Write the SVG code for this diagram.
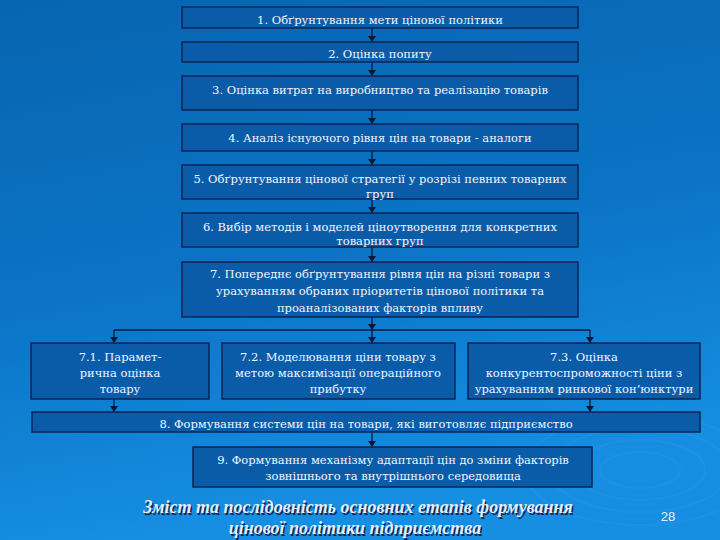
<svg xmlns="http://www.w3.org/2000/svg" width="720" height="540" viewBox="0 0 720 540">
<defs>
<linearGradient id="bg" x1="0" y1="0" x2="0.25" y2="1">
<stop offset="0" stop-color="#0765b0"/>
<stop offset="0.55" stop-color="#0b74c6"/>
<stop offset="1" stop-color="#168fe2"/>
</linearGradient>
<marker id="ah" markerWidth="6" markerHeight="8" refX="6" refY="4" orient="auto" markerUnits="userSpaceOnUse">
<path d="M0,0 L6,4 L0,8 z" fill="#0a1838"/>
</marker>
<style>
.box{fill:#0b5ca8;stroke:#0b2456;stroke-width:1.5}
.t{font-family:"DejaVu Serif","Liberation Serif",serif;font-size:11.5px;fill:#f2f6ff;text-anchor:middle}
.c{fill:none;stroke:#0a1838;stroke-width:1.3}
.ttl{font-family:"Liberation Serif","DejaVu Serif",serif;font-size:18px;font-weight:bold;font-style:italic;text-anchor:middle}
.sw{fill:none;stroke:#5fb4f0;stroke-opacity:0.1;stroke-width:2}
</style>
</defs>
<rect width="720" height="540" fill="url(#bg)"/>
<g id="swirls">
<ellipse class="sw" cx="640" cy="470" rx="40" ry="18"/>
<ellipse class="sw" cx="640" cy="470" rx="65" ry="30"/>
<ellipse class="sw" cx="640" cy="470" rx="90" ry="42"/>
<ellipse class="sw" cx="640" cy="470" rx="115" ry="55"/>
</g>
<g id="connectors">
<line class="c" x1="372" y1="28" x2="372" y2="42" marker-end="url(#ah)"/>
<line class="c" x1="372" y1="62" x2="372" y2="76" marker-end="url(#ah)"/>
<line class="c" x1="372" y1="110" x2="372" y2="124" marker-end="url(#ah)"/>
<line class="c" x1="372" y1="151" x2="372" y2="165" marker-end="url(#ah)"/>
<line class="c" x1="372" y1="199" x2="372" y2="213" marker-end="url(#ah)"/>
<line class="c" x1="372" y1="247" x2="372" y2="262" marker-end="url(#ah)"/>
<line class="c" x1="372" y1="317" x2="372" y2="330" marker-end="url(#ah)"/>
<line class="c" x1="114" y1="330" x2="590" y2="330"/>
<line class="c" x1="114" y1="330" x2="114" y2="343" marker-end="url(#ah)"/>
<line class="c" x1="372" y1="330" x2="372" y2="343" marker-end="url(#ah)"/>
<line class="c" x1="590" y1="330" x2="590" y2="343" marker-end="url(#ah)"/>
<line class="c" x1="114" y1="399" x2="114" y2="412" marker-end="url(#ah)"/>
<line class="c" x1="590" y1="399" x2="590" y2="412" marker-end="url(#ah)"/>
<line class="c" x1="372" y1="432" x2="372" y2="447" marker-end="url(#ah)"/>
</g>
<g id="n1"><rect class="box" x="182" y="7" width="396" height="21"/><text class="t" x="380" y="24">1. Обґрунтування мети цінової політики</text></g>
<g id="n2"><rect class="box" x="182" y="42" width="396" height="20"/><text class="t" x="380" y="58">2. Оцінка попиту</text></g>
<g id="n3"><rect class="box" x="182" y="76" width="396" height="34"/><text class="t" x="380" y="94">3. Оцінка витрат на виробництво та реалізацію товарів</text></g>
<g id="n4"><rect class="box" x="182" y="124" width="396" height="27"/><text class="t" x="380" y="142">4. Аналіз існуючого рівня цін на товари  - аналоги</text></g>
<g id="n5"><rect class="box" x="182" y="165" width="396" height="34"/><text class="t" x="380" y="183">5. Обґрунтування цінової стратегії у розрізі певних товарних</text><text class="t" x="380" y="198">груп</text></g>
<g id="n6"><rect class="box" x="182" y="213" width="396" height="34"/><text class="t" x="380" y="231">6. Вибір методів і моделей ціноутворення для конкретних</text><text class="t" x="380" y="245">товарних груп</text></g>
<g id="n7"><rect class="box" x="182" y="262" width="396" height="55"/><text class="t" x="380" y="278">7. Попереднє обґрунтування рівня цін на різні товари з</text><text class="t" x="380" y="295">урахуванням обраних пріоритетів цінової політики та</text><text class="t" x="380" y="312">проаналізованих факторів впливу</text></g>
<g id="n71"><rect class="box" x="31" y="343" width="178" height="56"/><text class="t" x="120" y="361">7.1. Парамет-</text><text class="t" x="120" y="377">рична оцінка</text><text class="t" x="120" y="393">товару</text></g>
<g id="n72"><rect class="box" x="222" y="343" width="233" height="56"/><text class="t" x="338" y="361">7.2. Моделювання ціни товару з</text><text class="t" x="338" y="377">метою  максимізації операційного</text><text class="t" x="338" y="393">прибутку</text></g>
<g id="n73"><rect class="box" x="468" y="343" width="232" height="56"/><text class="t" x="584" y="361">7.3. Оцінка</text><text class="t" x="584" y="377">конкурентоспроможності ціни з</text><text class="t" x="584" y="393">урахуванням ринкової кон’юнктури</text></g>
<g id="n8"><rect class="box" x="32" y="412" width="668" height="20"/><text class="t" x="366" y="428">8. Формування системи цін на товари, які виготовляє підприємство</text></g>
<g id="n9"><rect class="box" x="193" y="447" width="399" height="40"/><text class="t" x="393" y="464">9. Формування механізму адаптації цін до зміни факторів</text><text class="t" x="393" y="480">зовнішнього та внутрішнього середовища</text></g>
<g id="title">
<text class="ttl" x="359.5" y="514.5" fill="#0a2a5a">Зміст та послідовність основних етапів формування</text>
<text class="ttl" x="356.5" y="535.5" fill="#0a2a5a">цінової політики підприємства</text>
<text class="ttl" x="358" y="513" fill="#e4eeff">Зміст та послідовність основних етапів формування</text>
<text class="ttl" x="355" y="534" fill="#e4eeff">цінової політики підприємства</text>
</g>
<text x="668" y="521" font-family="Liberation Sans,Arial,sans-serif" font-size="13" fill="#e8f2ff" text-anchor="middle">28</text>
</svg>
